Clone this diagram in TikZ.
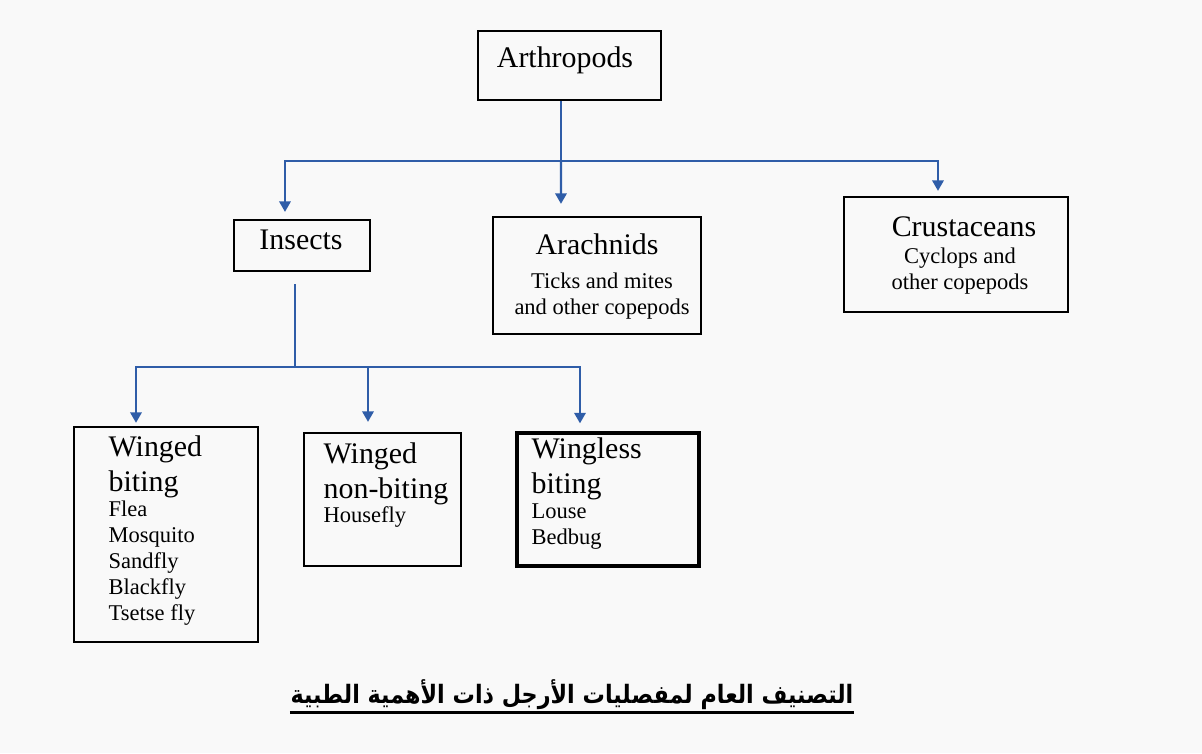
\documentclass[tikz,border=0pt]{standalone}
\usepackage{fontspec}
\setmainfont{Liberation Serif}
\newfontfamily\arabicfont[Script=Arabic, FakeStretch=0.88]{DejaVu Sans}
\TeXXeTstate=1
\usetikzlibrary{positioning}
\usetikzlibrary{arrows.meta}
\definecolor{linkblue}{RGB}{47,93,168}
\definecolor{paper}{RGB}{249,249,249}
\tikzset{
    groupbox/.style = {rectangle, draw=black, line width=0.6pt, inner sep=0pt},
    groupboxb/.style = {groupbox, line width=0.9pt},
    headtext/.style = {inner sep=0pt, align=left, font=\fontsize{8.5}{10}\selectfont},
    subtext/.style = {inner sep=0pt, align=left, font=\fontsize{6.4}{7.4}\selectfont},
    subtextc/.style = {subtext, align=center},
    link/.style = {linkblue, line width=0.7pt},
    linka/.style = {link, -{Triangle[width=3.2pt,length=3pt]}},
    uline/.style = {line width=0.85pt}
}

\begin{document}
\begin{tikzpicture}[x=0.01cm, y=-0.01cm]
\fill[paper] (0,0) rectangle (1202,753);
\useasboundingbox (0,0) rectangle (1202,753);
%
\node[groupbox, minimum width=1.83cm, minimum height=0.69cm] at (569.5,65.5) (arth) {};
\node[groupbox, minimum width=1.36cm, minimum height=0.51cm] at (302,245.5) (ins) {};
\node[groupbox, minimum width=2.08cm, minimum height=1.17cm] at (597,275.5) (arach) {};
\node[groupbox, minimum width=2.24cm, minimum height=1.15cm] at (956,254.5) (crust) {};
\node[groupbox, minimum width=1.84cm, minimum height=2.15cm] at (166,534.5) (wbite) {};
\node[groupbox, minimum width=1.57cm, minimum height=1.33cm] at (382.5,499.5) (wnon) {};
\node[groupboxb, minimum width=1.82cm, minimum height=1.33cm] at (608,499.5) (wless) {};
%
\node[headtext, anchor=base] at (565,67) (arthtxt) {Arthropods};
\node[headtext, anchor=base] at (301,249) (instxt) {Insects};
\node[headtext, anchor=base] at (597,254) (arachtxt) {Arachnids};
\node[subtextc, anchor=north] at (602,272) (arachsub) {Ticks and mites\\and other copepods};
\node[headtext, anchor=base] at (964,236) (crusttxt) {Crustaceans};
\node[subtextc, anchor=north] at (960,247) (crustsub) {Cyclops and\\other copepods};
\node[headtext, anchor=north west] at (108,435) (wbitetxt) {Winged\\biting};
\node[subtext, anchor=north west] at (108,500) (wbitesub) {Flea\\Mosquito\\Sandfly\\Blackfly\\Tsetse fly};
\node[headtext, anchor=north west] at (323,442) (wnontxt) {Winged\\non-biting};
\node[subtext, anchor=base west] at (323,522) (wnonsub) {Housefly};
\node[headtext, anchor=north west] at (531,437) (wlesstxt) {Wingless\\biting};
\node[subtext, anchor=north west] at (531,503) (wlesssub) {Louse\\Bedbug};
%
\node[inner sep=0pt, anchor=base, font=\fontsize{7.2}{9}\selectfont] at (572,703) (title)
    {\arabicfont\bfseries\beginR التصنيف العام لمفصليات الأرجل ذات الأهمية الطبية\endR};
\draw[uline] ([yshift=-0.09cm]title.base west) -- ([yshift=-0.09cm]title.base east);
%
\coordinate (hub) at (561,161);
\coordinate (hubb) at (295,367);
\draw[link] (arth.south -| hub) -- (hub);
\draw[linka, shorten >=0.07cm] (hub) -| ([xshift=-0.17cm]ins.north);
\draw[linka, shorten >=0.12cm] (hub) -- ([xshift=-0.36cm]arach.north);
\draw[linka, shorten >=0.05cm] (hub) -| ([xshift=-0.18cm]crust.north);
\draw[link, shorten <=0.12cm] (ins.south -| hubb) -- (hubb);
\draw[linka, shorten >=0.03cm] (hubb) -| ([xshift=-0.30cm]wbite.north);
\draw[linka, shorten >=0.10cm] (hubb) -| ([xshift=-0.145cm]wnon.north);
\draw[linka, shorten >=0.08cm] (hubb) -| ([xshift=-0.28cm]wless.north);
\end{tikzpicture}
\end{document}
